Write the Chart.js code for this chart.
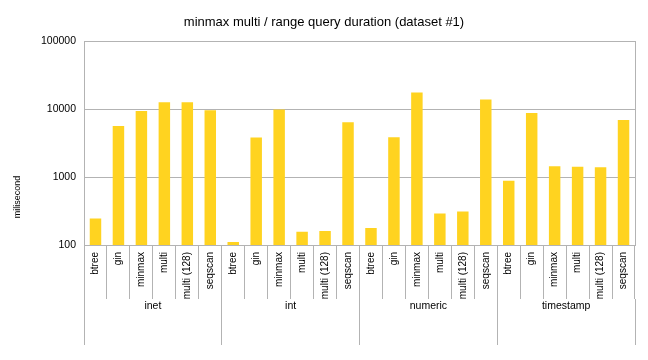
<!DOCTYPE html>
<html>
<head>
<meta charset="utf-8">
<script src="https://cdn.jsdelivr.net/npm/chart.js@4/dist/chart.umd.min.js"></script>
<style>
  html, body { margin: 0; padding: 0; background: #ffffff; }
  #wrap { width: 648px; height: 360px; }
</style>
</head>
<body>
<div id="wrap"><canvas id="durationChart" width="648" height="360"></canvas></div>
<script>
// data (milliseconds, log scale)
const groups = ["inet", "int", "numeric", "timestamp"];
const methods = ["btree", "gin", "minmax", "multi", "multi (128)", "seqscan"];

const inetMs = [245, 5700, 9500, 12800, 12800, 9700];
const intMs = [111, 3850, 10000, 157, 161, 6450];
const numericMs = [178, 3900, 17800, 292, 312, 14000];
const timestampMs = [885, 8850, 1450, 1420, 1400, 6950];

const yTicks = [100, 1000, 10000, 100000];

const titleText = "minmax multi / range query duration (dataset #1)";
const yTitle = "milisecond";

const gridColor = "#b3b3b3";
const barColor = "#ffd320";
const font = "'Liberation Sans', Arial, sans-serif";

const labels = [];
groups.forEach(() => methods.forEach(m => labels.push(m)));
const values = [].concat(inetMs, intMs, numericMs, timestampMs);

// y axis title, centred lower like the original
const yTitlePlugin = {
    id: "yTitle",
    afterDraw(chart) {
        const c = chart.ctx;
        c.save();
        c.translate(18, 197);
        c.rotate(-Math.PI / 2);
        c.font = "9px " + font;
        c.fillStyle = "#000000";
        c.textAlign = "center";
        c.textBaseline = "middle";
        c.fillText(yTitle, 0, 0);
        c.restore();
    }
};

function createDurationChart() {

    const ctx = document.getElementById("durationChart");
    if (!ctx) return;

    new Chart(ctx, {
        type: "bar",
        data: {
            labels: labels,
            datasets: [{
                label: "duration",
                data: values,
                backgroundColor: barColor,
                borderWidth: 0,
                barPercentage: 0.5,
                categoryPercentage: 1.0,
                xAxisID: "x"
            }]
        },
        options: {
            responsive: false,
            animation: false,
            layout: { padding: { left: 0, right: 0, top: 0, bottom: 15 } },
            plugins: {
                legend: { display: false },
                tooltip: { enabled: false },
                title: {
                    display: true,
                    text: titleText,
                    color: "#000000",
                    font: { family: font, size: 13, weight: "normal" },
                    padding: { top: 15, bottom: 11 }
                }
            },
            scales: {
                x: {
                    type: "category",
                    position: "bottom",
                    offset: true,
                    grid: {
                        offset: true,
                        drawOnChartArea: false,
                        drawTicks: true,
                        tickLength: 54,
                        color: gridColor
                    },
                    border: { display: true, color: gridColor },
                    ticks: {
                        autoSkip: false,
                        minRotation: 90,
                        maxRotation: 90,
                        padding: -47,
                        color: "#000000",
                        font: { family: font, size: 10 }
                    },
                    afterFit(scale) { scale.height = 54; }
                },
                group: {
                    type: "category",
                    position: "bottom",
                    labels: groups,
                    offset: true,
                    grid: {
                        offset: true,
                        drawOnChartArea: false,
                        drawTicks: true,
                        tickLength: 46,
                        color: gridColor
                    },
                    border: { display: false },
                    ticks: {
                        autoSkip: false,
                        maxRotation: 0,
                        padding: -45.6,
                        color: "#000000",
                        font: { family: font, size: 10.5 }
                    },
                    afterFit(scale) { scale.height = 46; }
                },
                y: {
                    type: "logarithmic",
                    min: 100,
                    max: 100000,
                    afterBuildTicks(scale) {
                        scale.ticks = yTicks.map(v => ({ value: v }));
                    },
                    grid: { color: gridColor, drawTicks: false },
                    border: { display: true, color: gridColor },
                    ticks: {
                        padding: 8,
                        color: "#000000",
                        font: { family: font, size: 10.5 },
                        callback: v => String(v)
                    },
                    afterFit(scale) { scale.width = 84; }
                },
                yRight: {
                    type: "linear",
                    position: "right",
                    grid: { drawOnChartArea: false, drawTicks: false },
                    border: { display: true, color: gridColor },
                    ticks: { display: false },
                    afterFit(scale) { scale.width = 13; }
                }
            }
        },
        plugins: [yTitlePlugin]
    });
}

createDurationChart();
</script>
</body>
</html>
